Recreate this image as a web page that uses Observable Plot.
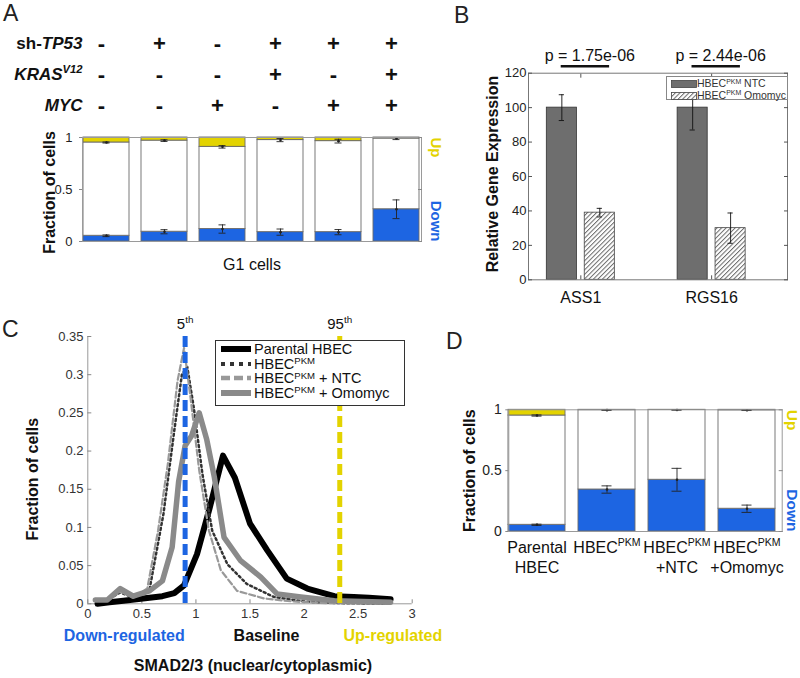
<!DOCTYPE html>
<html><head><meta charset="utf-8">
<script src="https://cdn.jsdelivr.net/npm/d3@7"></script>
<script src="https://cdn.jsdelivr.net/npm/@observablehq/plot@0.6"></script>
<style>
html,body{margin:0;padding:0;background:#fff;}
#root{position:relative;width:800px;height:678px;overflow:hidden;background:#fff;font-family:"Liberation Sans",Arial,Helvetica,sans-serif;color:#111;}
.abs{position:absolute;}
.letter{position:absolute;font-size:23px;line-height:23px;color:#222;}
.legend{position:absolute;background:#fff;box-sizing:border-box;}
.legend .row{position:absolute;white-space:nowrap;}
.legend svg{position:absolute;}
sup{font-size:66%;vertical-align:baseline;position:relative;top:-0.5em;line-height:0;}
</style></head><body><div id="root"></div>
<script>
const FONT = '"Liberation Sans", Arial, Helvetica, sans-serif';
const BLUE = "#1d65e2";
const YELLOW = "#e3d300";

// ---------------- Panel A data ----------------
const conditionsA = ["c1","c2","c3","c4","c5","c6"];
const factorRows = ["sh-*TP53*", "*KRAS*^{*V12*}", "*MYC*"];
const shTP53 = ["-","+","-","+","+","+"];
const krasV12 = ["-","-","-","+","-","+"];
const mycA = ["-","-","+","-","+","+"];
const downA = [0.055, 0.094, 0.12, 0.09, 0.09, 0.31];
const downErrA = [0.008, 0.02, 0.04, 0.03, 0.025, 0.09];
const upA = [0.048, 0.03, 0.09, 0.025, 0.035, 0.01];
const upErrA = [0.005, 0.008, 0.012, 0.015, 0.018, 0.01];

// ---------------- Panel B data ----------------
const genesB = ["ASS1", "RGS16"];
const treatmentsB = ["HBEC^{PKM} NTC", "HBEC^{PKM} Omomyc"];
const ntcB = [100, 100];
const ntcErrB = [7.5, 13];
const omomycB = [39, 30];
const omomycErrB = [2.5, 8.8];
const pValuesB = ["p = 1.75e-06", "p = 2.44e-06"];

// ---------------- Panel C data ----------------
const seriesC = ["Parental HBEC", "HBEC^{PKM}", "HBEC^{PKM} + NTC", "HBEC^{PKM} + Omomyc"];
const parentalX = [0.09, 0.2, 0.33, 0.45, 0.57, 0.69, 0.8, 0.89, 1.01, 1.13, 1.25, 1.36, 1.5, 1.66, 1.84, 2.03, 2.28, 2.46, 2.6, 2.8];
const parentalY = [0.0, 0.002, 0.004, 0.006, 0.008, 0.01, 0.014, 0.024, 0.065, 0.127, 0.194, 0.165, 0.105, 0.07, 0.033, 0.02, 0.01, 0.009, 0.008, 0.006];
const pkmX = [0.07, 0.18, 0.3, 0.42, 0.57, 0.7, 0.8, 0.87, 0.92, 0.98, 1.06, 1.15, 1.29, 1.47, 1.72, 2.0, 2.3, 2.8];
const pkmY = [0.004, 0.005, 0.015, 0.008, 0.018, 0.118, 0.227, 0.3, 0.31, 0.257, 0.17, 0.096, 0.052, 0.026, 0.009, 0.003, 0.001, 0.0];
const ntcX = [0.07, 0.18, 0.3, 0.42, 0.55, 0.65, 0.74, 0.83, 0.89, 0.95, 1.03, 1.12, 1.23, 1.38, 1.63, 1.9, 2.2, 2.8];
const ntcY = [0.004, 0.004, 0.016, 0.008, 0.02, 0.096, 0.183, 0.292, 0.335, 0.27, 0.175, 0.096, 0.044, 0.017, 0.007, 0.003, 0.001, 0.0];
const omomycX = [0.07, 0.18, 0.3, 0.42, 0.57, 0.69, 0.78, 0.84, 0.9, 0.96, 1.03, 1.1, 1.17, 1.26, 1.41, 1.6, 1.75, 1.97, 2.28, 2.8];
const omomycY = [0.005, 0.005, 0.02, 0.01, 0.017, 0.03, 0.074, 0.16, 0.207, 0.22, 0.25, 0.215, 0.166, 0.087, 0.057, 0.035, 0.013, 0.009, 0.004, 0.002];
const thresholdLabels = ["5^{th}", "95^{th}"];
const thresholdValues = [0.9, 2.33];
const xTicksC = [0, 0.5, 1, 1.5, 2, 2.5, 3];
const yTicksC = [0, 0.05, 0.1, 0.15, 0.2, 0.25, 0.3, 0.35];

// ---------------- Panel D data ----------------
const groupsD = ["Parental HBEC", "HBEC PKM", "HBEC PKM +NTC", "HBEC PKM +Omomyc"];
const labelLine1D = ["Parental", "HBEC^{PKM}", "HBEC^{PKM}", "HBEC^{PKM}"];
const labelLine2D = ["HBEC", "", "+NTC", "+Omomyc"];
const downD = [0.055, 0.345, 0.425, 0.187];
const downErrD = [0.005, 0.03, 0.094, 0.03];
const upD = [0.047, 0.003, 0.002, 0.004];
const upErrD = [0.005, 0.002, 0.001, 0.002];

// ---------------- helpers ----------------
const root = document.getElementById("root");

function rich(el) {
  const s = el.textContent;
  if (!/[\^*]/.test(s)) return;
  const fs = parseFloat(getComputedStyle(el).fontSize) || 13;
  const sel = d3.select(el);
  sel.text(null);
  const re = /\^\{([^}]*)\}|\*([^*]+)\*|([^*^]+)/g;
  const shift = +(fs * 0.42).toFixed(2);
  let m, up = false;
  while ((m = re.exec(s))) {
    const ts = sel.append("tspan");
    if (m[1] !== undefined) {
      let c = m[1], it = false;
      if (/^\*.*\*$/.test(c)) { c = c.slice(1, -1); it = true; }
      ts.text(c).attr("font-size", (fs * 0.66).toFixed(2));
      if (!up) ts.attr("dy", -shift);
      if (it) ts.attr("font-style", "italic");
      up = true;
    } else {
      if (up) { ts.attr("dy", shift); up = false; }
      if (m[2] !== undefined) ts.text(m[2]).attr("font-style", "italic");
      else ts.text(m[3]);
    }
  }
}
function htmlRich(s) {
  return s.replace(/\^\{([^}]*)\}/g, "<sup>$1</sup>");
}
function place(node, left, top) {
  const wrap = document.createElement("div");
  wrap.className = "abs";
  wrap.style.left = left + "px";
  wrap.style.top = top + "px";
  wrap.appendChild(node);
  root.appendChild(wrap);
  d3.select(node).selectAll("text").each(function () { rich(this); });
  return node;
}
function letter(t, left, top) {
  const d = document.createElement("div");
  d.className = "letter";
  d.style.left = left + "px"; d.style.top = top + "px";
  d.textContent = t;
  root.appendChild(d);
}
const baseStyle = (fs) => ({fontFamily: FONT, fontSize: fs + "px", background: "none", overflow: "visible", color: "#222"});
const M = {lineAnchor: "middle"};

function stackedChart(o) {
  const segs = [], errs = [];
  o.conds.forEach((c, i) => {
    const d = o.down[i], u = o.up[i];
    segs.push({c, lo: 0, hi: d, fill: BLUE});
    segs.push({c, lo: d, hi: 1 - u, fill: "#ffffff"});
    segs.push({c, lo: 1 - u, hi: 1, fill: YELLOW});
    errs.push({c, v: d, lo: d - o.downErr[i], hi: d + o.downErr[i]});
    errs.push({c, v: 1 - u, lo: 1 - u - o.upErr[i], hi: 1 - u + o.upErr[i]});
  });
  const ticks = [0, 0.5, 1];
  return Plot.plot({
    width: o.width, height: o.height,
    marginLeft: o.ml, marginRight: o.mr, marginTop: o.mt, marginBottom: o.mb,
    style: baseStyle(o.tickFont),
    x: {type: "band", domain: o.conds, paddingInner: o.pad, paddingOuter: 0, insetRight: o.insetRight || 0, axis: null},
    y: {domain: [0, 1], label: null},
    color: {type: "identity"},
    marks: [
      Plot.barY(segs, {x: "c", y1: "lo", y2: "hi", fill: "fill", stroke: "#6a6a6a", strokeWidth: 0.9}),
      Plot.ruleX(errs, {x: "c", y1: "lo", y2: "hi", stroke: "#222", strokeWidth: 0.9}),
      Plot.tickY(errs, {x: "c", y: "lo", stroke: "#222", strokeWidth: 0.9, insetLeft: o.capInset, insetRight: o.capInset}),
      Plot.tickY(errs, {x: "c", y: "hi", stroke: "#222", strokeWidth: 0.9, insetLeft: o.capInset, insetRight: o.capInset}),
      Plot.dot(errs, {x: "c", y: "v", r: 1.3, fill: "#222"}),
      Plot.frame({stroke: "#9a9a9a"}),
      Plot.axisY({ticks, tickFormat: d => String(d), tickSize: 3, tickPadding: o.tickPad, stroke: "#888", fill: "#222", label: null}),
      Plot.axisY({anchor: "right", ticks, tickFormat: () => "", tickSize: -4, stroke: "#888", label: null}),
      Plot.text(["Fraction of cells"], {...M, frameAnchor: "left", textAnchor: "middle", rotate: -90, dx: o.ylabDx, dy: o.ylabDy, fontSize: 16, fontWeight: "bold", fill: "#111"}),
      Plot.text(["Up"], {...M, frameAnchor: "top-right", rotate: 90, textAnchor: "start", dx: o.udDx, fontSize: o.udFont, fontWeight: "bold", fill: YELLOW}),
      Plot.text(["Down"], {...M, frameAnchor: "bottom-right", rotate: 90, textAnchor: "end", dx: o.udDx, fontSize: o.udFont, fontWeight: "bold", fill: BLUE}),
      ...(o.extra || [])
    ]
  });
}

// ---------------- Panel A ----------------
letter("A", 3, 2);
const matrix = [];
[shTP53, krasV12, mycA].forEach((arr, r) => arr.forEach((v, i) => matrix.push({row: factorRows[r], c: conditionsA[i], v})));
place(Plot.plot({
  width: 450, height: 95, marginLeft: 82, marginRight: 29, marginTop: 18, marginBottom: 15,
  style: baseStyle(13),
  x: {type: "band", domain: conditionsA, paddingInner: 0.2, paddingOuter: 0, axis: null},
  y: {type: "point", domain: factorRows, padding: 0, axis: null},
  marks: [
    Plot.text(matrix, {...M, x: "c", y: "row", text: "v", fontSize: 22, fontWeight: "bold", dx: -5, fill: "#111"}),
    Plot.text(factorRows, {...M, y: d => d, frameAnchor: "left", textAnchor: "end", fontSize: 17, fontWeight: "bold", fill: "#111"})
  ]
}), 0, 25);

place(stackedChart({
  conds: conditionsA, down: downA, downErr: downErrA, up: upA, upErr: upErrA,
  width: 450, height: 160, ml: 82, mr: 29, mt: 17, mb: 39, pad: 0.2, capInset: 19.5,
  tickFont: 13, tickPad: 7, ylabDx: -33, ylabDy: 3, udDx: 14.5, udFont: 15,
  extra: [Plot.text(["G1 cells"], {...M, frameAnchor: "bottom", dy: 23, fontSize: 16, fill: "#111"})]
}), 0, 120);

// ---------------- Panel B ----------------
letter("B", 454, 4);
const bRows = genesB.flatMap((g, i) => [
  {g, pos: i + 1 - 0.145, v: ntcB[i], e: ntcErrB[i], t: treatmentsB[0]},
  {g, pos: i + 1 + 0.145, v: omomycB[i], e: omomycErrB[i], t: treatmentsB[1]}
]);
const hw = 0.115, cap = 0.02;
const svgB = place(Plot.plot({
  width: 380, height: 280, marginLeft: 108, marginRight: 13, marginTop: 32.7, marginBottom: 40.7,
  style: baseStyle(13),
  x: {domain: [0.6, 2.58]},
  y: {domain: [0, 120]},
  marks: [
    Plot.rect(bRows.filter(d => d.t === treatmentsB[0]), {x1: d => d.pos - hw, x2: d => d.pos + hw, y1: 0, y2: "v", fill: "#6e6e6e", stroke: "#333", strokeWidth: 0.8}),
    Plot.rect(bRows.filter(d => d.t === treatmentsB[1]), {x1: d => d.pos - hw, x2: d => d.pos + hw, y1: 0, y2: "v", fill: "url(#hatchB)", stroke: "#444", strokeWidth: 0.8}),
    Plot.ruleX(bRows, {x: "pos", y1: d => d.v - d.e, y2: d => d.v + d.e, stroke: "#111", strokeWidth: 0.9}),
    Plot.ruleY(bRows, {y: d => d.v - d.e, x1: d => d.pos - cap, x2: d => d.pos + cap, stroke: "#111", strokeWidth: 0.9}),
    Plot.ruleY(bRows, {y: d => d.v + d.e, x1: d => d.pos - cap, x2: d => d.pos + cap, stroke: "#111", strokeWidth: 0.9}),
    Plot.frame({stroke: "#777"}),
    Plot.axisY({ticks: d3.range(0, 121, 20), tickFormat: d => String(d), tickSize: -4, tickPadding: 6, stroke: "#555", fill: "#222", label: null}),
    Plot.axisY({anchor: "right", ticks: d3.range(0, 121, 20), tickFormat: () => "", tickSize: -4, stroke: "#555", label: null}),
    Plot.axisX({ticks: [1, 2], tickFormat: d => genesB[d - 1], tickSize: -4, tickPadding: 15.5, stroke: "#555", fill: "#111", fontSize: 16, label: null}),
    Plot.axisX({anchor: "top", ticks: [1, 2], tickFormat: () => "", tickSize: -4, stroke: "#555", label: null}),
    Plot.text(["Relative Gene Expression"], {...M, frameAnchor: "left", textAnchor: "middle", rotate: -90, dx: -36, dy: -2.5, fontSize: 16, fontWeight: "bold", fill: "#111"}),
    Plot.text(pValuesB, {...M, x: (d, i) => i + 1, frameAnchor: "top", dy: -17.7, dx: 9, fontSize: 16, fill: "#111"}),
    Plot.ruleY(pValuesB, {y: 124, x1: (d, i) => i + 1 - 0.15, x2: (d, i) => i + 1 + 0.22, stroke: "#111", strokeWidth: 2.6})
  ]
}), 420, 40);
function addHatch(svgSel, id) {
  const p = svgSel.insert("defs", ":first-child").append("pattern")
    .attr("id", id).attr("patternUnits", "userSpaceOnUse")
    .attr("width", 3.2).attr("height", 3.2).attr("patternTransform", "rotate(45)");
  p.append("rect").attr("width", 3.2).attr("height", 3.2).attr("fill", "#fff");
  p.append("line").attr("x1", 0.5).attr("y1", 0).attr("x2", 0.5).attr("y2", 3.2).attr("stroke", "#6a6a6a").attr("stroke-width", 1);
}
addHatch(d3.select(svgB), "hatchB");

// Legend B
(function () {
  const leg = document.createElement("div");
  leg.className = "legend";
  Object.assign(leg.style, {left: "666px", top: "76px", width: "122px", height: "24px", border: "1px solid #888", fontSize: "10.5px", color: "#333"});
  const rows = [{fill: "#6e6e6e"}, {fill: "url(#hatchL)"}];
  treatmentsB.forEach((t, i) => {
    const sw = d3.create("svg").attr("width", 26).attr("height", 8)
      .style("left", "4px").style("top", (3 + i * 11.5) + "px");
    if (i === 1) addHatch(sw, "hatchL");
    sw.append("rect").attr("x", 0.5).attr("y", 0.5).attr("width", 25).attr("height", 7)
      .attr("fill", rows[i].fill).attr("stroke", "#444").attr("stroke-width", 0.8);
    leg.appendChild(sw.node());
    const r = document.createElement("div");
    r.className = "row";
    Object.assign(r.style, {left: "30px", top: (1 + i * 11.5) + "px", lineHeight: "11px"});
    r.innerHTML = htmlRich(t);
    leg.appendChild(r);
  });
  root.appendChild(leg);
})();

// ---------------- Panel C ----------------
letter("C", 2, 318);
const toPts = (xs, ys) => xs.map((x, i) => ({x, y: ys[i]}));
const thresholds = thresholdValues.map((v, i) => ({v, label: thresholdLabels[i], color: i === 0 ? BLUE : YELLOW}));
place(Plot.plot({
  width: 420, height: 358, marginLeft: 87.3, marginRight: 8.3, marginTop: 16, marginBottom: 74.7,
  style: baseStyle(13),
  x: {domain: [0, 3], label: null},
  y: {domain: [0, 0.35], label: null},
  color: {type: "identity"},
  marks: [
    Plot.ruleY([0], {stroke: "#999"}),
    Plot.ruleX([0], {stroke: "#999"}),
    Plot.axisX({ticks: xTicksC, tickFormat: d => String(d), tickSize: -4, tickPadding: 9.3, stroke: "#888", fill: "#333", label: null}),
    Plot.axisY({ticks: yTicksC, tickFormat: d => String(d), tickSize: -4, tickPadding: 8.3, stroke: "#888", fill: "#333", label: null}),
    Plot.line(toPts(parentalX, parentalY), {x: "x", y: "y", stroke: "#000", strokeWidth: 6, strokeLinejoin: "round"}),
    Plot.line(toPts(pkmX, pkmY), {x: "x", y: "y", stroke: "#333", strokeWidth: 2.5, strokeDasharray: "2,3"}),
    Plot.line(toPts(ntcX, ntcY), {x: "x", y: "y", stroke: "#999", strokeWidth: 2.2, strokeDasharray: "6,3"}),
    Plot.line(toPts(omomycX, omomycY), {x: "x", y: "y", stroke: "#8a8a8a", strokeWidth: 5.5, strokeLinejoin: "round"}),
    Plot.ruleX(thresholds, {x: "v", stroke: "color", strokeWidth: 5, strokeDasharray: "11,5"}),
    Plot.text(thresholds, {...M, x: "v", text: "label", frameAnchor: "top", dy: -12, fontSize: 15, fill: "#111"}),
    Plot.text(["Down-regulated"], {...M, frameAnchor: "bottom-left", textAnchor: "start", dx: -24, dy: 31.7, fontSize: 16, fontWeight: "bold", fill: BLUE}),
    Plot.text(["Baseline"], {...M, frameAnchor: "bottom", textAnchor: "middle", dx: 16.5, dy: 31.7, fontSize: 16, fontWeight: "bold", fill: "#111"}),
    Plot.text(["Up-regulated"], {...M, frameAnchor: "bottom-right", textAnchor: "start", dx: -68.7, dy: 31.7, fontSize: 16, fontWeight: "bold", fill: YELLOW}),
    Plot.text(["SMAD2/3 (nuclear/cytoplasmic)"], {...M, frameAnchor: "bottom", textAnchor: "middle", dx: 3, dy: 62, fontSize: 16, fontWeight: "bold", fill: "#111"}),
    Plot.text(["Fraction of cells"], {...M, frameAnchor: "left", textAnchor: "middle", rotate: -90, dx: -54.5, dy: 9, fontSize: 16, fontWeight: "bold", fill: "#111"})
  ]
}), 0, 320);

// Legend C
(function () {
  const leg = document.createElement("div");
  leg.className = "legend";
  Object.assign(leg.style, {left: "215px", top: "340px", width: "190px", height: "66px", border: "1px solid #333", fontSize: "14.5px", color: "#111"});
  const sw = [
    {stroke: "#000", w: 6, dash: null},
    {stroke: "#333", w: 4, dash: "4,5"},
    {stroke: "#999", w: 4.5, dash: "9,4"},
    {stroke: "#8a8a8a", w: 6, dash: null}
  ];
  seriesC.forEach((t, i) => {
    const c = 8.3 + i * 14.5;
    const s = d3.create("svg").attr("width", 30).attr("height", 10)
      .style("left", "5px").style("top", (c - 5) + "px");
    s.append("line").attr("x1", 0).attr("x2", 30).attr("y1", 5).attr("y2", 5)
      .attr("stroke", sw[i].stroke).attr("stroke-width", sw[i].w).attr("stroke-dasharray", sw[i].dash);
    leg.appendChild(s.node());
    const r = document.createElement("div");
    r.className = "row";
    Object.assign(r.style, {left: "38px", top: (c - 7) + "px", lineHeight: "14px"});
    r.innerHTML = htmlRich(t);
    leg.appendChild(r);
  });
  root.appendChild(leg);
})();

// ---------------- Panel D ----------------
letter("D", 446, 330);
place(stackedChart({
  conds: groupsD, down: downD, downErr: downErrD, up: upD, upErr: upErrD,
  width: 360, height: 210, ml: 68.3, mr: 18.3, mt: 29.3, mb: 59, pad: 0.19, insetRight: 6.7, capInset: 23.5,
  tickFont: 14, tickPad: 4, ylabDx: -39.3, ylabDy: 0, udDx: 10, udFont: 15.5,
  extra: [
    Plot.text(groupsD, {...M, x: d => d, text: (d, i) => labelLine1D[i], frameAnchor: "bottom", dy: 16, fontSize: 16, fill: "#111"}),
    Plot.text(groupsD, {...M, x: d => d, text: (d, i) => labelLine2D[i], frameAnchor: "bottom", dy: 36, fontSize: 16, fill: "#111"})
  ]
}), 440, 380);
</script></body></html>
